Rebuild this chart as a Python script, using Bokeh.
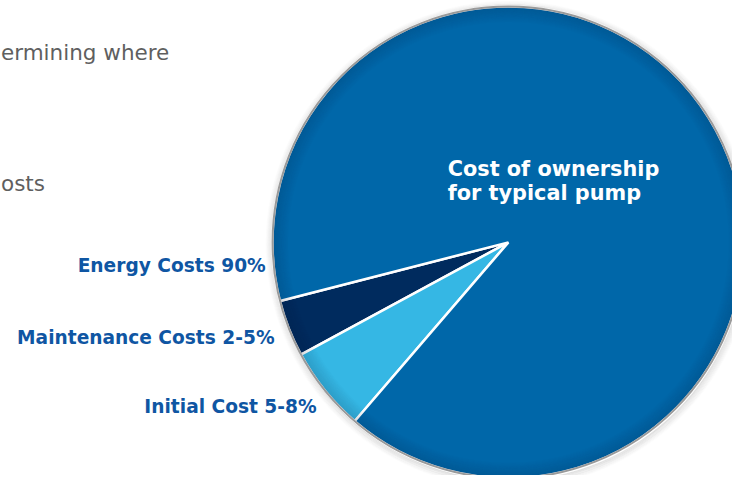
import numpy as np
from bokeh.plotting import figure
from bokeh.models import Range1d
from bokeh.core.properties import value
from bokeh.embed import file_html
from bokeh.resources import INLINE

# Data
categories = ["Maintenance Costs", "Initial Cost", "Energy Costs"]
shares = [3.9, 5.8, 90.3]          # percent of the full circle
colors = ["#002B5E", "#35B7E4", "#0067A9"]
start_deg = 194.4                   # where the first slice begins

label_texts = ["Energy Costs 90%", "Maintenance Costs 2-5%", "Initial Cost 5-8%"]
title_lines = ["Cost of ownership", "for typical pump"]
bg_texts = ["ermining  where", "osts"]

W, H = 748, 491
p = figure(width=732, height=475, output_backend="svg", toolbar_location=None,
           x_range=Range1d(0, W), y_range=Range1d(0, H),
           min_border=0)
p.axis.visible = False
p.grid.visible = False
p.outline_line_color = None
p.background_fill_color = "white"

cx, cy, R = 519, H - 250, 241

# outer soft shadow
for i in range(8):
    p.annular_wedge(x=cx + 1, y=cy - 2, inner_radius=R + i, outer_radius=R + i + 1.2,
                    start_angle=0, end_angle=2 * np.pi,
                    fill_color="#000000", fill_alpha=0.10 * (1 - i / 8), line_color=None)

cum = np.cumsum([0] + shares)
starts = np.deg2rad(start_deg + cum[:-1] * 3.6)
ends = np.deg2rad(start_deg + cum[1:] * 3.6)
p.wedge(x=cx, y=cy, radius=R, start_angle=starts, end_angle=ends,
        fill_color=colors, line_color="white", line_width=2.5)

# inner edge darkening
for i in range(16):
    p.annular_wedge(x=cx, y=cy, inner_radius=R - 16 + i, outer_radius=R - 15 + i,
                    start_angle=0, end_angle=2 * np.pi,
                    fill_color="#001530", fill_alpha=0.16 * (i + 1) / 16, line_color=None)

# rim
p.circle(x=cx, y=cy, radius=R, fill_color=None, line_color="#9A9A9A", line_width=2)

label_color = "#0F56A3"
p.text(x=[271, 280, 323], y=[H - 274, H - 348, H - 420], text=label_texts,
       text_align="right", text_baseline="alphabetic",
       text_font=value("DejaVu Sans"), text_font_style="bold",
       text_font_size="18.6px", text_color=label_color)

p.text(x=[457, 457], y=[H - 174, H - 199], text=title_lines,
       text_align="left", text_baseline="alphabetic",
       text_font=value("DejaVu Sans"), text_font_style="bold",
       text_font_size="20.8px", text_color="white")

p.text(x=[0.5, 0.5], y=[H - 54, H - 189], text=bg_texts,
       text_align="left", text_baseline="alphabetic",
       text_font=value("DejaVu Sans"), text_font_size="21.5px", text_color="#5F5F5F")

open("out.html", "w").write(file_html(p, INLINE))
